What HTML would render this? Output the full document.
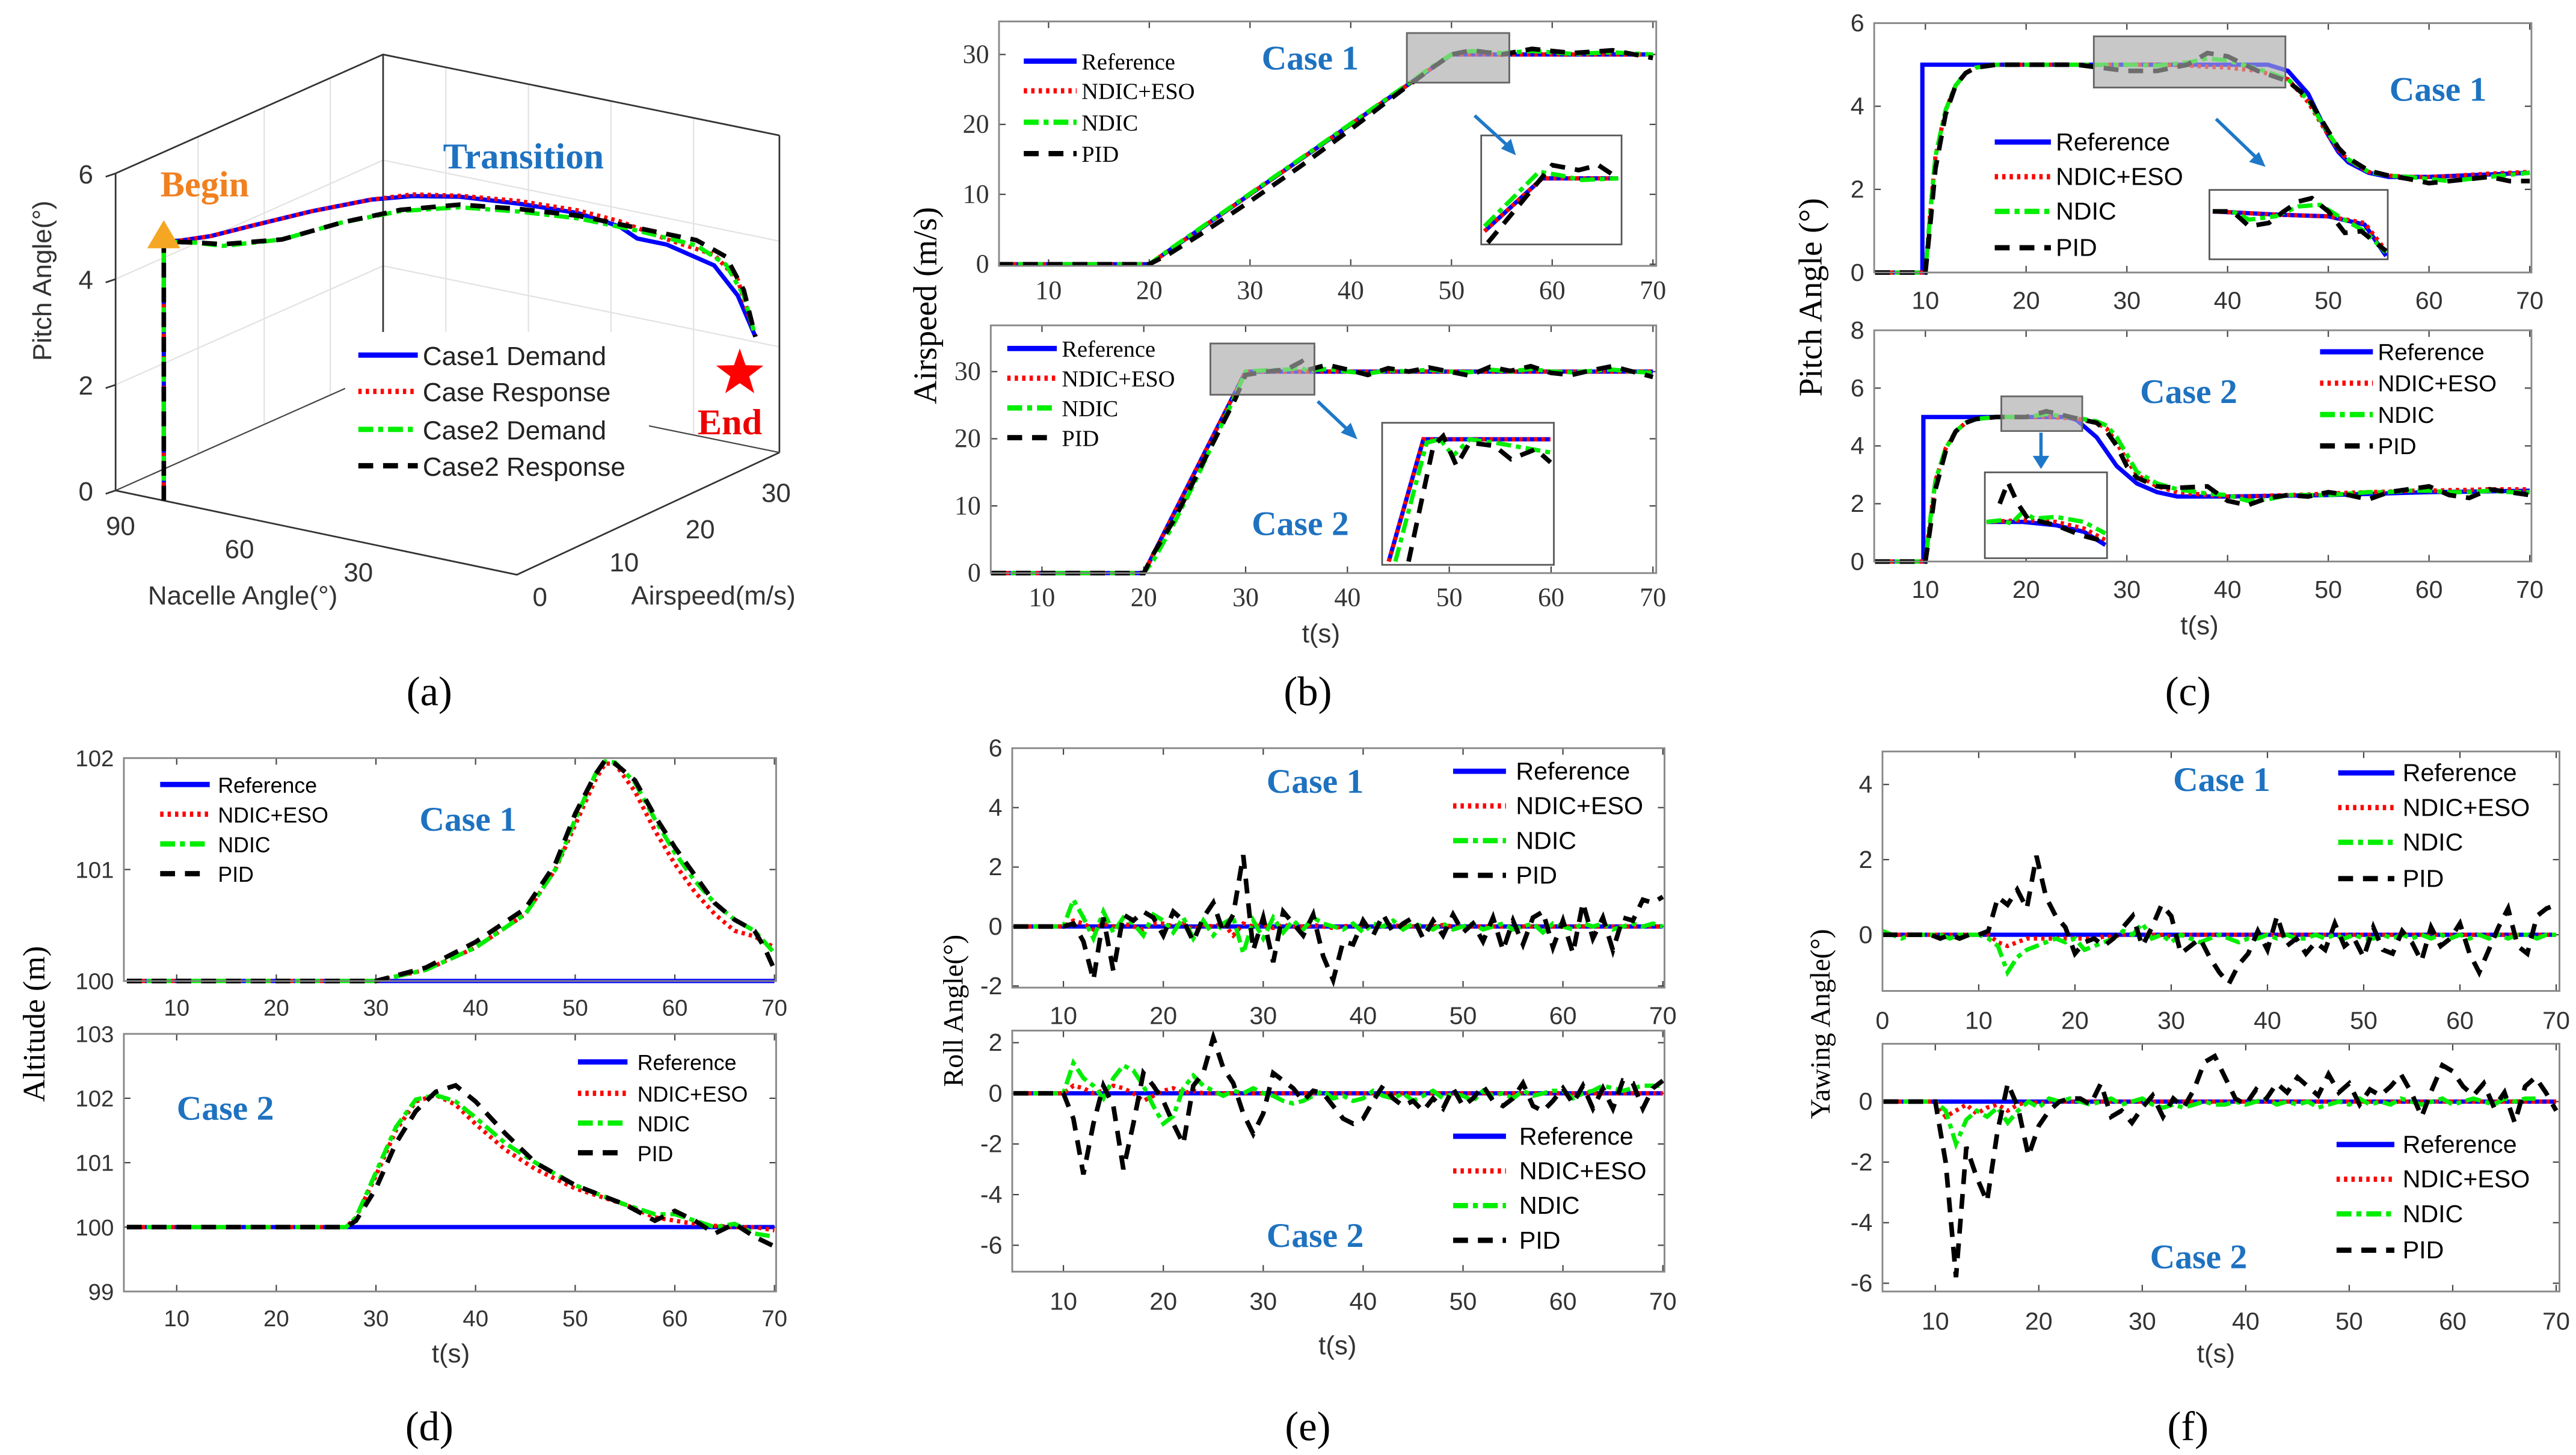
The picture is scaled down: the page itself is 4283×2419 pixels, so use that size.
<!DOCTYPE html>
<html><head><meta charset="utf-8">
<style>
html,body{margin:0;padding:0;background:#fff;}
svg{display:block;}
</style></head>
<body>
<svg id="fig" xmlns="http://www.w3.org/2000/svg" width="4283" height="2419" viewBox="0 0 1560 881" preserveAspectRatio="none" font-family="Liberation Sans, sans-serif">
<rect x="0" y="0" width="1560" height="881" fill="#fff"/>
</svg>
<script>
// ---------- DATA ----------
const a_t      = [0,0.03,0.08,0.15,0.25,0.35,0.42,0.5,0.6,0.7,0.77,0.8,0.85,0.93,0.97,1.0];
const a_dem1   = [4.9,4.9,4.95,5.1,5.3,5.45,5.47,5.4,5.2,4.95,4.65,4.4,4.25,3.8,3.2,2.4];
const a_resp1  = [4.9,4.9,4.95,5.1,5.3,5.45,5.5,5.42,5.25,5.0,4.75,4.6,4.35,4.0,3.5,2.4];
const a_t2     = [0,0.05,0.1,0.2,0.3,0.4,0.5,0.6,0.7,0.8,0.9,0.95,0.98,1.0];
const a_dem2   = [4.9,4.85,4.75,4.8,5.05,5.2,5.2,5.05,4.85,4.55,4.2,3.8,3.2,2.4];
const a_resp2  = [4.9,4.85,4.78,4.8,5.05,5.22,5.25,5.1,4.9,4.6,4.3,3.95,3.3,2.4];
const b1_t   = [5,20,50,70];
const b1_ref = [0,0,30,30];
const b1_pt  = [5,20,22,25,30,35,40,45,48,50,52,55,58,62,66,70];
const b1_pid = [0,0,1.5,4.2,9,14,19.3,24.8,28,30,30.6,30,30.8,30.2,30.6,29.5];
const b1_ndc = [0,0,2.1,5.1,10.1,15.1,20.1,25.1,28.2,30,30.5,30.2,30.5,30.1,30.3,30];
const b2_t   = [5,20,30,70];
const b2_ref = [0,0,30,30];
const b2_pt  = [5,20,21,23,25,27,29,30,32,34,35.5,36,38,40,42,44,46,48,50,52,54,56,58,60,62,64,66,68,70];
const b2_pid = [0,0,3,8,14,20,26,29.5,30,30.3,31.5,30.2,31,30.3,29.5,30.5,30,30.6,30,29.4,30.7,30.1,30.8,29.8,29.5,30.2,30.8,30,29.2];
const b2_ndc = [0,0,2,7.5,13.5,20,26.5,30,30.2,30.3,30.6,30.1,30.4,30,29.7,30.2,30,30.3,30,29.9,30.3,30,30.4,30,29.9,30.1,30.3,30,29.8];
const c1_rt  = [5,9.7,9.7,44,46,48,49,50,51,52,54,56,60,65,70];
const c1_ref = [0,0,5,5,4.85,4.3,3.8,3.3,2.9,2.65,2.4,2.3,2.3,2.35,2.4];
const c1_t   = [5,10,10.5,11,12,13,14,15,17,20,25,30,33,36,38,40,43,46,48,49,50,51,52,54,56,58,60,62,64,66,68,70];
const c1_eso = [0,0,1.5,2.8,3.9,4.5,4.8,4.93,5,5,5,5,5,4.98,4.95,4.93,4.85,4.65,4.1,3.7,3.3,2.95,2.7,2.42,2.33,2.3,2.3,2.32,2.35,2.38,2.4,2.42];
const c1_ndc = [0,0,1.5,2.8,3.9,4.5,4.8,4.93,5,5,5,5,4.98,5.05,5.15,5.1,4.9,4.65,4.15,3.75,3.35,3.0,2.72,2.42,2.33,2.3,2.25,2.2,2.25,2.3,2.35,2.4];
const c1_pid = [0,0,1.2,2.5,3.8,4.5,4.8,4.93,5,5,5,4.85,4.85,5.0,5.28,5.2,4.85,4.6,4.2,3.8,3.4,3.0,2.75,2.45,2.33,2.25,2.15,2.2,2.25,2.3,2.2,2.2];
const c2_rt  = [5,9.8,9.8,24,25,27,29,31,33,35,40,50,60,70];
const c2_ref = [0,0,5,5,4.9,4.3,3.3,2.7,2.4,2.25,2.25,2.3,2.4,2.45];
const c2_t   = [5,10,10.5,11,12,13,14,15,17,20,22,25,27,28,29,30,31,33,35,38,40,42,44,46,48,50,52,54,56,58,60,62,64,66,68,70];
const c2_eso = [0,0,1.5,2.8,3.9,4.5,4.8,4.93,5,5,5,4.95,4.8,4.6,4.1,3.5,3.0,2.6,2.4,2.3,2.25,2.25,2.28,2.3,2.32,2.35,2.38,2.4,2.42,2.45,2.45,2.47,2.48,2.5,2.5,2.5];
const c2_ndc = [0,0,1.5,2.8,3.9,4.5,4.8,4.93,5,5,5.1,4.97,4.85,4.7,4.3,3.7,3.1,2.7,2.5,2.35,2.3,2.1,2.15,2.3,2.3,2.3,2.35,2.4,2.4,2.45,2.45,2.4,2.4,2.45,2.4,2.4];
const c2_pid = [0,0,1.2,2.5,3.8,4.5,4.8,4.93,5,5,5.2,4.95,4.8,4.5,4.0,3.3,2.9,2.6,2.55,2.6,2.1,1.95,2.2,2.3,2.25,2.4,2.3,2.15,2.4,2.5,2.6,2.3,2.2,2.5,2.4,2.3];
const d1_t   = [5,30,35,40,45,48,50,52,53,54,56,58,60,62,64,66,68,69,70];
const d1_eso = [100,100,100.1,100.3,100.6,101,101.4,101.8,101.95,101.95,101.7,101.35,101.05,100.8,100.6,100.45,100.4,100.35,100.3];
const d1_ndc = [100,100,100.1,100.3,100.6,101,101.45,101.85,101.97,101.96,101.78,101.45,101.15,100.9,100.7,100.55,100.45,100.35,100.25];
const d1_pid = [100,100,100.12,100.35,100.65,101.05,101.5,101.85,101.98,101.95,101.8,101.48,101.2,100.95,100.7,100.55,100.45,100.3,100.1];
const d2_t   = [5,27,28,30,32,34,36,38,40,43,46,50,55,58,60,62,64,66,68,70];
const d2_eso = [100,100,100.15,100.8,101.5,101.95,102.05,101.9,101.6,101.2,100.9,100.6,100.35,100.15,100.1,100.05,100.02,100,100,99.95];
const d2_ndc = [100,100,100.15,100.85,101.55,101.98,102.05,101.95,101.7,101.3,101.0,100.65,100.35,100.2,100.2,100.1,100.0,100.05,99.9,99.85];
const d2_pid = [100,100,100.1,100.6,101.3,101.8,102.1,102.2,101.95,101.45,101.0,100.65,100.35,100.1,100.25,100.1,99.9,100.05,99.85,99.7];
const e1_pid = [0,0,0,0,0,0,0.1,-0.5,-1.8,0.3,-1.5,0.4,0.2,0.5,0.3,-0.3,0.5,0.2,-0.5,0.3,0.8,-0.2,0.4,2.4,-0.8,0.3,-1.2,0.5,0.1,-0.3,0.4,-1.0,-1.8,-0.5,-0.6,0.2,-0.3,0.4,-0.2,0.1,0.3,-0.4,0.2,-0.3,0.4,-0.2,0.1,-0.5,0.3,-0.8,0.2,-0.6,0.3,0.5,-0.7,0.2,-0.9,0.8,-0.4,0.3,-0.8,0.3,0.2,0.9,0.8,1.0];
const e1_ndc = [0,0,0,0,0,0,0.9,0.3,-0.4,0.5,-0.2,0.3,0.1,-0.3,0.4,0.2,-0.2,0.3,-0.4,0.2,-0.3,0.1,0.3,-0.9,0.2,-0.4,0.3,-0.2,0.2,-0.1,0.3,0.1,0,-0.1,0.1,-0.2,0.1,0,0.2,-0.1,0.1,0,-0.1,0.1,-0.1,0,0.1,-0.1,0,0.1,-0.1,0,0.1,-0.2,0.1,0,-0.1,0.1,0,0.1,-0.1,0,0.1,0,0.1,0];
const e1_eso = [0,0,0,0,0,0,0.2,0.1,-0.1,0.1,0,0.1,0,-0.1,0.1,0.1,0,0.1,-0.1,0.05,0,0.1,-0.3,0.1,0,0.05,-0.05,0.05,0,0,0.05,0,-0.05,0,0.05,0,0,0,0.05,0,0,0,0,0.05,0,0,0,0,0,0,0,0,0,0,0,0,0,0,0,0,0,0,0,0,0,0];
const e2_pid = [0,0,0,0,0,0,-1.0,-3.2,-1.2,0.3,-0.5,-3.0,-1.2,0.8,0.3,-0.3,-1.2,-2.0,0.3,0.8,2.2,1.0,0.4,-0.8,-1.6,-0.8,0.8,0.5,0.2,-0.3,0.1,0,-0.5,-1.0,-1.2,-1.0,-0.3,0.3,-0.2,-0.5,-0.3,-0.7,-0.2,-0.6,0.2,-0.5,-0.2,0.3,-0.3,-0.5,-0.2,0.4,-0.5,-0.7,-0.3,0.2,-0.4,0.3,-0.6,0.2,-0.6,0.5,0.4,-0.6,0.2,0.5,1.0];
const e2_ndc = [0,0,0,0,0,0,1.2,0.6,0.3,-0.2,0.6,1.1,0.9,0.3,-0.5,-1.2,-0.9,0.2,0.7,0.3,0.1,-0.1,0.1,0,0.2,0,-0.1,-0.3,-0.4,-0.3,-0.1,0.1,-0.2,-0.1,-0.3,-0.2,0.1,-0.1,-0.2,0,-0.3,-0.1,0.1,-0.2,0,-0.1,-0.3,0.1,-0.1,0,-0.2,0.1,-0.1,0,0.1,0.1,-0.2,0,0.1,0.3,0.2,0.1,0.2,0.3,0.3,0.3];
const e2_eso = [0,0,0,0,0,0,0.3,0.2,0,0.1,0.3,0.2,0,-0.3,-0.1,0.1,0.2,0,0.1,0,0,0,0,0,0,0,0,0,0,0,0,0,0,0,0,0,0,0,0,0,0,0,0,0,0,0,0,0,0,0,0,0,0,0,0,0,0,0,0,0,0,0,0,0,0,0];
const f1_pid = [0,0,0,0,0,0,-0.1,0,-0.1,0,0,0.1,1.0,0.8,1.2,0.7,2.1,1.0,0.5,0.2,-0.5,-0.2,-0.1,-0.3,-0.1,0.2,0.5,-0.3,0.2,0.8,0.5,-0.5,-0.3,-0.1,-0.6,-1.0,-1.3,-0.8,-0.5,0.1,-0.4,0.5,-0.3,-0.1,-0.5,-0.2,-0.4,0.3,-0.3,-0.1,-0.6,0.2,-0.4,-0.5,0.1,-0.2,-0.7,0.2,-0.3,-0.1,0.3,-0.5,-1.0,-0.4,0.2,0.7,-0.3,-0.5,0.5,0.7,0.8];
const f1_ndc = [0.1,0,-0.1,0,0,0,0,-0.1,0,0,0,-0.1,-0.3,-1.0,-0.6,-0.4,-0.3,-0.2,-0.1,-0.2,-0.1,-0.4,-0.3,-0.2,-0.1,0.1,0,0.3,-0.1,0,-0.2,0,-0.1,-0.2,-0.1,0,-0.1,-0.2,-0.1,-0.1,0,-0.1,0,-0.1,-0.1,0,-0.1,0,-0.1,0,-0.1,-0.1,0,-0.1,0,-0.1,0,-0.1,0,-0.1,0,-0.1,0,-0.1,0,-0.1,0,0,-0.1,0,0];
const f1_eso = [0,0,0,0,0,0,0,0,0,0,0,0,-0.2,-0.3,-0.2,-0.1,-0.1,-0.1,-0.1,-0.1,-0.1,-0.1,-0.1,-0.05,-0.05,0,0,0,0,0,-0.05,0,0,0,0,0,0,0,0,0,0,0,0,0,0,0,0,0,0,0,0,0,0,0,0,0,0,0,0,0,0,0,0,0,0,0,0,0,0,0,0];
const f2_pid = [0,0,0,0,0,0,-2.0,-5.8,-1.5,-2.5,-3.3,-1.0,0.6,-0.2,-1.8,-0.8,-0.3,0,0.1,0.1,-0.1,0.6,-0.5,-0.3,-0.7,-0.2,0.2,-0.5,0.1,-0.2,0.4,1.3,1.5,0.8,0.1,-0.1,0.4,0.1,0.6,0.3,0.8,0.5,0.2,0.9,0.3,0.6,-0.1,0.4,0.2,0.5,0.9,0.3,-0.5,0.4,1.2,1.0,0.5,0.2,0.6,-0.2,0.3,-0.7,0.5,0.8,0.3,-0.3,0.1,-0.8,-1.0,-0.8,-1.2];
const f2_ndc = [0,0,0,0,0,0,-0.3,-1.4,-0.6,-0.3,-0.5,-0.2,-0.7,-0.3,0,-0.2,0.1,0,0.1,0,-0.1,0,0.1,-0.1,0,0.1,-0.1,-0.2,-0.1,-0.2,-0.1,0,-0.1,-0.1,0,-0.1,0,0.1,-0.1,0,-0.1,0,-0.2,-0.1,0,-0.1,0.1,-0.1,0,-0.1,0.1,0,-0.1,0,0.1,-0.1,0,0.1,0,-0.1,0.1,0,0.1,0.1];
const f2_eso = [0,0,0,0,0,0,-0.5,-0.3,-0.1,-0.4,-0.2,-0.1,-0.3,-0.1,0,-0.05,0,0,0,0,0,0,0,0,0,0,0,0,0,0,0,0,0,0,0,0,0,0,0,0,0,0,0,0,0,0,0,0,0,0,0,0,0,0,0,0,0,0,0,0,0,0,0,0,0,0];

// ---------- DRAW ----------
const NS='http://www.w3.org/2000/svg';
const svg=document.getElementById('fig');
const SERIF='"Liberation Serif", serif';
function mk(tag,attrs,parent,txt){const e=document.createElementNS(NS,tag);for(const k in attrs){if(k==='font-family'){e.style.fontFamily=attrs[k];}else e.setAttribute(k,attrs[k]);}if(txt!==undefined)e.textContent=txt;(parent||svg).appendChild(e);return e;}
function lin(v1,p1,v2,p2){return v=>p1+(v-v1)*(p2-p1)/(v2-v1);}
const STY={
 ref:{stroke:'#0000ff','stroke-width':2.6,fill:'none'},
 eso:{stroke:'#ff0000','stroke-width':2.6,fill:'none','stroke-dasharray':'2,2.5'},
 ndc:{stroke:'#00ee00','stroke-width':2.6,fill:'none','stroke-dasharray':'9,3,3,3'},
 pid:{stroke:'#000000','stroke-width':2.8,fill:'none','stroke-dasharray':'9,6'}
};
function idx(n,start){const a=[];for(let i=0;i<n;i++)a.push(start+i);return a;}
function series(g,sx,sy,xs,ys,sty,name){
  const pts=xs.map((x,i)=>sx(x).toFixed(2)+','+sy(ys[i]).toFixed(2)).join(' ');
  const p=mk('polyline',Object.assign({points:pts},STY[sty]),g);
  
  
  return p;
}
function panel(c){
  const g=mk('g',{});
  
  
  const [x0,y0,x1,y1]=c.box;
  mk('rect',{x:x0,y:y0,width:x1-x0,height:y1-y0,fill:'#fff',stroke:'#999','stroke-width':1},g);
  const sx=lin(...c.xm), sy=lin(...c.ym);
  const ff=c.serif?SERIF:'"Liberation Sans", sans-serif';
  c.xt.forEach(v=>{const X=sx(v);
    mk('line',{x1:X,y1:y1,x2:X,y2:y1-4,stroke:'#444','stroke-width':0.8},g);
    mk('line',{x1:X,y1:y0,x2:X,y2:y0+4,stroke:'#444','stroke-width':0.8},g);
    const t=mk('text',{x:X,y:c.xly,'text-anchor':'middle','font-size':c.fs||15,fill:'#333','font-family':ff},g,String(v));
    });
  c.yt.forEach(v=>{const Y=sy(v);
    mk('line',{x1:x0,y1:Y,x2:x0+4,y2:Y,stroke:'#444','stroke-width':0.8},g);
    mk('line',{x1:x1,y1:Y,x2:x1-4,y2:Y,stroke:'#444','stroke-width':0.8},g);
    const t=mk('text',{x:x0-6,y:Y+5,'text-anchor':'end','font-size':c.fs||15,fill:'#333','font-family':ff},g,String(v));
    });
  if(c.zoom){c.zoom.forEach(z=>mk('rect',{x:z[0],y:z[1],width:z[2],height:z[3],fill:'#c8c8c8',stroke:'#666','stroke-width':1},g));}
  const sg=mk('g',{},g);
  
  c.series.forEach(s=>series(sg,sx,sy,s[0],s[1],s[2],s[3]));
  if(c.zoom){c.zoom.forEach(z=>mk('rect',{x:z[0],y:z[1],width:z[2],height:z[3],fill:'#c8c8c8','fill-opacity':0.55,stroke:'#666','stroke-width':1},g));}
  mk('rect',{x:x0,y:y0,width:x1-x0,height:y1-y0,fill:'none',stroke:'#888','stroke-width':1},g);
  const L=c.leg; const labels=['Reference','NDIC+ESO','NDIC','PID']; const keys=['ref','eso','ndc','pid'];
  const lg=mk('g',{},g);
  labels.forEach((lab,i)=>{const Y=L.rows[i];
    const e=mk('g',{},lg);
    mk('line',Object.assign({x1:L.x1,y1:Y,x2:L.x2,y2:Y},STY[keys[i]],{'stroke-width':3.2}),e);
    mk('text',{x:L.tx,y:Y+5,'font-size':L.fs||15,fill:'#000','font-family':L.serif?SERIF:'"Liberation Sans", sans-serif'},e,lab);});
  if(c.title){const t=mk('text',{x:c.title[0],y:c.title[1],'font-size':21,'font-weight':'bold',fill:'#1e72c0','font-family':SERIF},g,c.title[2]);
    }
  return g;
}
function txt(x,y,s,size,name,opts){const t=mk('text',Object.assign({x:x,y:y,'font-size':size,fill:'#000'},opts||{}),svg,s);
  return t;}
const t65=idx(66,5), t71=idx(71,0);

// ---------- (a) 3D ----------
(function(){
  const g=mk('g',{});
  const gl={stroke:'#e2e2e2','stroke-width':0.8,fill:'none'};
  for(let p=2;p<=4;p+=2){const dy=p*32;
    mk('polyline',Object.assign({points:`70,${297-dy} 232,${225-dy} 472,${274-dy}`},gl),g);}
  [120,160,200].forEach(x=>{const y=297-(x-70)*(72/162);mk('line',Object.assign({x1:x,y1:y,x2:x,y2:y-192},gl),g);});
  [270,320,370,420].forEach(x=>{const y=225+(x-232)*(49/240);mk('line',Object.assign({x1:x,y1:y,x2:x,y2:y-192},gl),g);});
  const ax={stroke:'#333','stroke-width':1,fill:'none'};
  mk('polyline',Object.assign({points:'70,105 232,33 472,82'},ax),g);
  mk('line',Object.assign({x1:70,y1:105,x2:70,y2:297},ax),g);
  mk('line',Object.assign({x1:472,y1:82,x2:472,y2:274},ax),g);
  mk('line',Object.assign({x1:232,y1:33,x2:232,y2:225},ax),g);
  mk('polyline',Object.assign({points:'70,297 232,225 472,274'},{stroke:'#444','stroke-width':0.8,fill:'none'}),g);
  mk('polyline',Object.assign({points:'70,297 313,348 472,274'},ax),g);
  [0,2,4,6].forEach(p=>{const y=297-p*32;mk('line',{x1:64,y1:y+2,x2:70,y2:y,stroke:'#333'},g);txt(52,y+6,String(p),16,'z-tick-label',{'text-anchor':'middle',fill:'#333'});});
  [[90,73,324],[60,145,338],[30,217,352]].forEach(a=>txt(a[1],a[2],String(a[0]),16,'x-tick-label',{'text-anchor':'middle',fill:'#333'}));
  [[0,327,367],[10,378,346],[20,424,326],[30,470,304]].forEach(a=>txt(a[1],a[2],String(a[0]),16,'y-tick-label',{'text-anchor':'middle',fill:'#333'}));
  const F=[313,348];
  function P(n,v,p){return [F[0]-243*n/100+159*v/33, F[1]-51*n/100-74*v/33-p*32];}
  function curve(ts,ps,sty,name,lead){
    const pts=[];
    if(lead){pts.push(P(88,0,0));}
    ts.forEach((t,i)=>pts.push(P(88*(1-t),30*t,ps[i])));
    const pl=mk('polyline',Object.assign({points:pts.map(q=>q[0].toFixed(1)+','+q[1].toFixed(1)).join(' ')},STY[sty]),g);
    
  }
  // legend background first (covers back line)
  const lg=mk('g',{},g);
  mk('rect',{x:209,y:201,width:184,height:93,fill:'#fff'},lg);
  curve(a_t,a_dem1,'ref','case1-demand',true);
  curve(a_t,a_resp1,'eso','case1-response',true);
  curve(a_t2,a_dem2,'ndc','case2-demand',true);
  curve(a_t2,a_resp2,'pid','case2-response',true);
  const b=P(88,0,4.9);
  const tri=mk('polygon',{points:`${b[0]},${b[1]-13} ${b[0]-10},${b[1]+4} ${b[0]+10},${b[1]+4}`,fill:'#f5a623'},g);
  
  const cx=448,cy=226,R=15,r=6;let sp='';for(let i=0;i<10;i++){const ang=-Math.PI/2+i*Math.PI/5;const rr=i%2?r:R;sp+=(cx+rr*Math.cos(ang)).toFixed(1)+','+(cy+rr*Math.sin(ang)).toFixed(1)+' ';}
  const st=mk('polygon',{points:sp,fill:'#ff0000'},g);
  [['Case1 Demand','ref',215],['Case Response','eso',237],['Case2 Demand','ndc',260],['Case2 Response','pid',282]].forEach(e=>{
    const eg=mk('g',{},lg);
    mk('line',Object.assign({x1:217,y1:e[2],x2:253,y2:e[2]},STY[e[1]],{'stroke-width':3.2}),eg);
    mk('text',{x:256,y:e[2]+6,'font-size':16,fill:'#222'},eg,e[0]);});
  txt(31,170,'Pitch Angle(°)',16,'z-axis-title',{transform:'rotate(-90 31 170)','text-anchor':'middle',fill:'#333'});
  txt(147,366,'Nacelle Angle(°)',16,'x-axis-title',{'text-anchor':'middle',fill:'#333'});
  txt(432,366,'Airspeed(m/s)',16,'y-axis-title',{'text-anchor':'middle',fill:'#333'});
  txt(124,119,'Begin',22,'begin-label',{'text-anchor':'middle','font-weight':'bold',fill:'#f08020','font-family':SERIF});
  txt(317,102,'Transition',22,'transition-label',{'text-anchor':'middle','font-weight':'bold',fill:'#1e72c0','font-family':SERIF});
  txt(442,263,'End',22,'end-label',{'text-anchor':'middle','font-weight':'bold',fill:'#ee0000','font-family':SERIF});
})();

// ---------- (b) ----------
panel({name:'panel-b-case1',box:[605,13,1003,161],xm:[10,635,70,1001],ym:[0,160,30,33],xt:[10,20,30,40,50,60,70],yt:[0,10,20,30],xly:181,serif:true,fs:16,
  zoom:[[852,20,62,30]],
  series:[[b1_t,b1_ref,'ref','reference-line'],[b1_t,b1_ref,'eso','ndic-eso-line'],[b1_pt,b1_ndc,'ndc','ndic-line'],[b1_pt,b1_pid,'pid','pid-line']],
  leg:{x1:620,x2:652,tx:655,rows:[37,55,74,93],serif:true,fs:14},title:[764,42,'Case 1']});
panel({name:'panel-b-case2',box:[600,197,1003,347],xm:[10,631,70,1001],ym:[0,347,30,225],xt:[10,20,30,40,50,60,70],yt:[0,10,20,30],xly:367,serif:true,fs:16,
  zoom:[[733,208,63,31]],
  series:[[b2_t,b2_ref,'ref','reference-line'],[b2_t,b2_ref,'eso','ndic-eso-line'],[b2_pt,b2_ndc,'ndc','ndic-line'],[b2_pt,b2_pid,'pid','pid-line']],
  leg:{x1:610,x2:640,tx:643,rows:[211,229,247,265],serif:true,fs:14},title:[758,324,'Case 2']});
(function(){const g=mk('g',{});
  mk('rect',{x:897,y:82,width:85,height:66,fill:'#fff',stroke:'#555'},g);
  mk('polyline',Object.assign({points:'899,140 934,108 980,108'},STY.ref),g);
  mk('polyline',Object.assign({points:'899,140 934,108 980,108'},STY.eso),g);
  mk('polyline',Object.assign({points:'899,137 932,104 944,106 958,109 980,108'},STY.ndc),g);
  mk('polyline',Object.assign({points:'901,147 940,100 956,103 968,100 980,108'},STY.pid),g);
  mk('rect',{x:837,y:256,width:104,height:86,fill:'#fff',stroke:'#555'},g);
  mk('polyline',Object.assign({points:'841,340 862,266 939,266'},STY.ref),g);
  mk('polyline',Object.assign({points:'841,340 862,266 939,266'},STY.eso),g);
  mk('polyline',Object.assign({points:'845,340 864,268 872,266 880,276 890,266 905,268 939,274'},STY.ndc),g);
  mk('polyline',Object.assign({points:'853,340 868,270 874,264 882,282 890,268 905,270 915,278 930,272 939,280'},STY.pid),g);
  mk('line',{x1:893,y1:70,x2:915,y2:90,stroke:'#1e78c8','stroke-width':2},g);
  mk('polygon',{points:'918,94 909,90 915,84',fill:'#1e78c8'},g);
  mk('line',{x1:798,y1:243,x2:818,y2:262,stroke:'#1e78c8','stroke-width':2},g);
  mk('polygon',{points:'822,266 812,262 818,256',fill:'#1e78c8'},g);
})();
txt(567,185,'Airspeed (m/s)',20,'y-axis-title-b',{transform:'rotate(-90 567 185)','text-anchor':'middle','font-family':SERIF});
txt(800,389,'t(s)',16,'x-axis-title-b',{'text-anchor':'middle',fill:'#333'});

// ---------- (c) ----------
panel({name:'panel-c-case1',box:[1135,14,1533,165],xm:[10,1166,70,1532],ym:[0,165,6,14],xt:[10,20,30,40,50,60,70],yt:[0,2,4,6],xly:187,
  zoom:[[1268,22,116,31]],
  series:[[c1_rt,c1_ref,'ref','reference-line'],[c1_t,c1_eso,'eso','ndic-eso-line'],[c1_t,c1_ndc,'ndc','ndic-line'],[c1_t,c1_pid,'pid','pid-line']],
  leg:{x1:1208,x2:1242,tx:1245,rows:[86,107,128,150]},title:[1447,61,'Case 1']});
panel({name:'panel-c-case2',box:[1135,200,1533,340],xm:[10,1166,70,1532],ym:[0,340,8,200],xt:[10,20,30,40,50,60,70],yt:[0,2,4,6,8],xly:362,
  zoom:[[1212,240,49,21]],
  series:[[c2_rt,c2_ref,'ref','reference-line'],[c2_t,c2_eso,'eso','ndic-eso-line'],[c2_t,c2_ndc,'ndc','ndic-line'],[c2_t,c2_pid,'pid','pid-line']],
  leg:{x1:1405,x2:1437,tx:1440,rows:[213,232,251,270],fs:14},title:[1296,244,'Case 2']});
(function(){const g=mk('g',{});
  mk('rect',{x:1338,y:115,width:108,height:42,fill:'#fff',stroke:'#555'},g);
  mk('polyline',Object.assign({points:'1340,128 1380,130 1410,131 1432,136 1445,155'},STY.ref),g);
  mk('polyline',Object.assign({points:'1340,128 1380,130 1410,131 1432,135 1445,152'},STY.eso),g);
  mk('polyline',Object.assign({points:'1340,128 1352,128 1362,133 1378,131 1392,125 1405,124 1418,132 1432,140 1445,153'},STY.ndc),g);
  mk('polyline',Object.assign({points:'1340,128 1352,128 1362,137 1374,135 1383,128 1392,122 1400,120 1410,128 1420,141 1430,140 1445,152'},STY.pid),g);
  mk('line',{x1:1342,y1:72,x2:1368,y2:97,stroke:'#1e78c8','stroke-width':2},g);
  mk('polygon',{points:'1372,101 1362,98 1368,92',fill:'#1e78c8'},g);
  mk('rect',{x:1202,y:286,width:74,height:52,fill:'#fff',stroke:'#555'},g);
  mk('polyline',Object.assign({points:'1203,316 1225,316 1245,318 1262,322 1275,330'},STY.ref),g);
  mk('polyline',Object.assign({points:'1203,316 1225,315 1245,316 1262,320 1275,327'},STY.eso),g);
  mk('polyline',Object.assign({points:'1203,316 1212,315 1218,317 1225,310 1232,314 1245,313 1262,316 1275,323'},STY.ndc),g);
  mk('polyline',Object.assign({points:'1211,305 1216,292 1222,305 1228,314 1245,318 1260,324 1275,328'},STY.pid),g);
  mk('line',{x1:1236,y1:262,x2:1236,y2:278,stroke:'#1e78c8','stroke-width':2},g);
  mk('polygon',{points:'1236,284 1231,276 1241,276',fill:'#1e78c8'},g);
})();
txt(1103,180,'Pitch Angle (°)',20,'y-axis-title-c',{transform:'rotate(-90 1103 180)','text-anchor':'middle','font-family':SERIF});
txt(1332,384,'t(s)',16,'x-axis-title-c',{'text-anchor':'middle',fill:'#333'});

// ---------- (d) ----------
const d_ref_t=[5,70], d_ref=[100,100];
panel({name:'panel-d-case1',box:[75,459,470,594],xm:[10,107,70,469],ym:[100,594,102,459],xt:[10,20,30,40,50,60,70],yt:[100,101,102],xly:615,fs:14,
  series:[[d_ref_t,d_ref,'ref','reference-line'],[d1_t,d1_eso,'eso','ndic-eso-line'],[d1_t,d1_ndc,'ndc','ndic-line'],[d1_t,d1_pid,'pid','pid-line']],
  leg:{x1:97,x2:127,tx:132,rows:[475,493,511,529],fs:13},title:[254,503,'Case 1']});
panel({name:'panel-d-case2',box:[75,626,470,782],xm:[10,107,70,469],ym:[100,743,102,665],xt:[10,20,30,40,50,60,70],yt:[99,100,101,102,103],xly:803,fs:14,
  series:[[d_ref_t,d_ref,'ref','reference-line'],[d2_t,d2_eso,'eso','ndic-eso-line'],[d2_t,d2_ndc,'ndc','ndic-line'],[d2_t,d2_pid,'pid','pid-line']],
  leg:{x1:350,x2:380,tx:386,rows:[643,662,680,698],fs:13},title:[107,678,'Case 2']});
txt(27,620,'Altitude (m)',19,'y-axis-title-d',{transform:'rotate(-90 27 620)','text-anchor':'middle','font-family':SERIF});
txt(273,825,'t(s)',16,'x-axis-title-d',{'text-anchor':'middle',fill:'#333'});

// ---------- (e) ----------
const z_t=[5,70], z0=[0,0];
panel({name:'panel-e-case1',box:[613,453,1008,598],xm:[10,644,70,1007],ym:[0,561,6,453],xt:[10,20,30,40,50,60,70],yt:[-2,0,2,4,6],xly:620,
  series:[[z_t,z0,'ref','reference-line'],[t65,e1_eso,'eso','ndic-eso-line'],[t65,e1_ndc,'ndc','ndic-line'],[t65,e1_pid,'pid','pid-line']],
  leg:{x1:880,x2:912,tx:918,rows:[467,488,509,530]},title:[767,480,'Case 1']});
panel({name:'panel-e-case2',box:[613,624,1008,770],xm:[10,644,70,1007],ym:[0,662,-6,754],xt:[10,20,30,40,50,60,70],yt:[2,0,-2,-4,-6],xly:793,
  series:[[z_t,z0,'ref','reference-line'],[t65,e2_eso,'eso','ndic-eso-line'],[t65,e2_ndc,'ndc','ndic-line'],[t65,e2_pid,'pid','pid-line']],
  leg:{x1:880,x2:912,tx:920,rows:[688,709,730,751]},title:[767,755,'Case 2']});
txt(583,612,'Roll Angle(°)',17,'y-axis-title-e',{transform:'rotate(-90 583 612)','text-anchor':'middle','font-family':SERIF});
txt(810,820,'t(s)',16,'x-axis-title-e',{'text-anchor':'middle',fill:'#333'});

// ---------- (f) ----------
panel({name:'panel-f-case1',box:[1140,455,1550,600],xm:[0,1140,70,1548],ym:[0,566,4,475],xt:[0,10,20,30,40,50,60,70],yt:[0,2,4],xly:623,
  series:[[[0,70],z0,'ref','reference-line'],[t71,f1_eso,'eso','ndic-eso-line'],[t71,f1_ndc,'ndc','ndic-line'],[t71,f1_pid,'pid','pid-line']],
  leg:{x1:1416,x2:1450,tx:1455,rows:[468,489,510,532]},title:[1316,479,'Case 1']});
panel({name:'panel-f-case2',box:[1140,632,1550,782],xm:[10,1172,70,1548],ym:[0,667,-6,777],xt:[10,20,30,40,50,60,70],yt:[0,-2,-4,-6],xly:805,
  series:[[z_t,z0,'ref','reference-line'],[t65,f2_eso,'eso','ndic-eso-line'],[t65,f2_ndc,'ndc','ndic-line'],[t65,f2_pid,'pid','pid-line']],
  leg:{x1:1415,x2:1450,tx:1455,rows:[693,714,735,757]},title:[1302,768,'Case 2']});
txt(1108,620,'Yawing Angle(°)',17,'y-axis-title-f',{transform:'rotate(-90 1108 620)','text-anchor':'middle','font-family':SERIF});
txt(1342,825,'t(s)',16,'x-axis-title-f',{'text-anchor':'middle',fill:'#333'});

// ---------- sub-captions ----------
[['(a)',260,427],['(b)',792,427],['(c)',1325,427],['(d)',260,872],['(e)',792,872],['(f)',1325,872]].forEach(c=>{
  txt(c[1],c[2],c[0],25,'subfigure-label',{'text-anchor':'middle','font-family':SERIF});});
</script>
</body></html>
